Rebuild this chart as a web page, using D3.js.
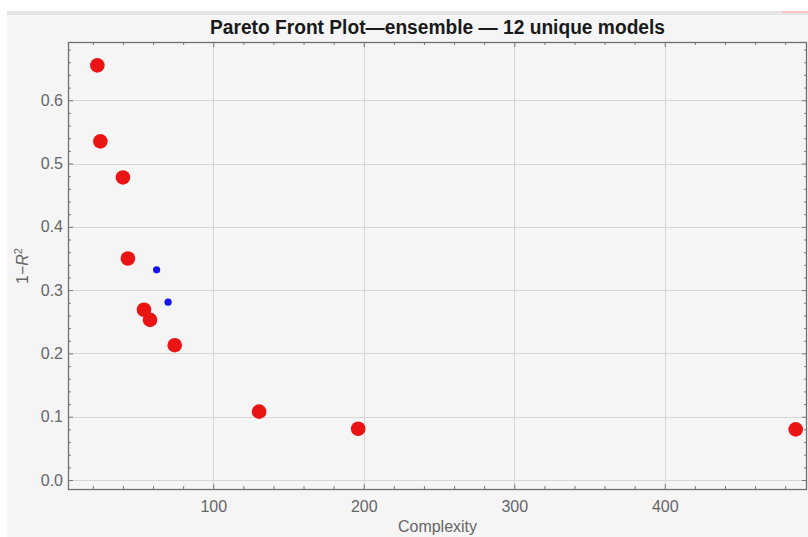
<!DOCTYPE html>
<html>
<head>
<meta charset="utf-8">
<script src="https://cdn.jsdelivr.net/npm/d3@7"></script>
<style>
  html, body { margin: 0; padding: 0; background: #ffffff; }
  svg { display: block; }
  text { font-family: "Liberation Sans", Arial, sans-serif; }
</style>
</head>
<body>
<svg id="chart" width="808" height="537"></svg>
<script>
// Pareto front models: complexity vs. 1 - R^2
const frontComplexity = [23, 25, 40, 43.3, 54, 58, 74.4, 130.5, 196.3, 487];
const frontError      = [0.655, 0.535, 0.478, 0.350, 0.269, 0.253, 0.213, 0.108, 0.081, 0.080];

// Remaining (dominated) models
const otherComplexity = [62.4, 70];
const otherError      = [0.332, 0.281];

const xMajorTicks = [100, 200, 300, 400];
const yMajorTicks = [0.0, 0.1, 0.2, 0.3, 0.4, 0.5, 0.6];

const titleText = "Pareto Front Plot\u2014ensemble \u2014 12 unique models";
const xLabel = "Complexity";

const svg = d3.select("#chart");
const W = 808, H = 537;
const plot = { left: 68, right: 807, top: 42, bottom: 489 };

// Panel background
svg.append("rect").attr("x", 7).attr("y", 12).attr("width", W - 7).attr("height", H - 12)
  .attr("fill", "#f5f5f5");
svg.append("rect").attr("x", 7).attr("y", 11).attr("width", W - 7).attr("height", 4)
  .attr("fill", "#e4e4e4");
svg.append("rect").attr("x", 783).attr("y", 11).attr("width", 25).attr("height", 2)
  .attr("fill", "#f2c4c4");

const x = d3.scaleLinear().domain([3.5, 494.5]).range([plot.left, plot.right]);
const y = d3.scaleLinear().domain([-0.0142, 0.692]).range([plot.bottom, plot.top]);

const xMinor = d3.range(20, 495, 20).filter(v => !xMajorTicks.includes(v));
const yMinor = d3.range(0, 0.69, 0.02).map(v => +v.toFixed(2))
  .filter(v => !yMajorTicks.some(t => Math.abs(t - v) < 1e-9));

// Grid
const grid = svg.append("g").attr("stroke", "#d6d6d6").attr("stroke-width", 1);
grid.selectAll("line.gx").data(xMajorTicks).join("line")
  .attr("x1", d => Math.round(x(d)) + 0.5).attr("x2", d => Math.round(x(d)) + 0.5)
  .attr("y1", plot.top).attr("y2", plot.bottom);
grid.selectAll("line.gy").data(yMajorTicks).join("line")
  .attr("y1", d => Math.round(y(d)) + 0.5).attr("y2", d => Math.round(y(d)) + 0.5)
  .attr("x1", plot.left).attr("x2", plot.right);

// Axes with inward ticks on all four sides
function styleAxis(g) {
  g.select(".domain").remove();
  g.selectAll(".tick line").attr("stroke", "#7a7a7a");
  g.selectAll(".tick text").attr("fill", "#666666").attr("font-size", 16);
}
const fmtY = d3.format(".1f");

svg.append("g").attr("transform", `translate(0,${plot.bottom})`)
  .call(d3.axisBottom(x).tickValues(xMajorTicks).tickSizeInner(-5).tickSizeOuter(0).tickPadding(12))
  .call(styleAxis);
svg.append("g").attr("transform", `translate(0,${plot.bottom})`)
  .call(d3.axisBottom(x).tickValues(xMinor).tickSizeInner(-3).tickSizeOuter(0).tickFormat(""))
  .call(styleAxis);
svg.append("g").attr("transform", `translate(0,${plot.top})`)
  .call(d3.axisTop(x).tickValues(xMajorTicks).tickSizeInner(-5).tickSizeOuter(0).tickFormat(""))
  .call(styleAxis);
svg.append("g").attr("transform", `translate(0,${plot.top})`)
  .call(d3.axisTop(x).tickValues(xMinor).tickSizeInner(-3).tickSizeOuter(0).tickFormat(""))
  .call(styleAxis);

svg.append("g").attr("transform", `translate(${plot.left},0)`)
  .call(d3.axisLeft(y).tickValues(yMajorTicks).tickSizeInner(-5).tickSizeOuter(0).tickPadding(5).tickFormat(fmtY))
  .call(styleAxis);
svg.append("g").attr("transform", `translate(${plot.left},0)`)
  .call(d3.axisLeft(y).tickValues(yMinor).tickSizeInner(-3).tickSizeOuter(0).tickFormat(""))
  .call(styleAxis);
svg.append("g").attr("transform", `translate(${plot.right},0)`)
  .call(d3.axisRight(y).tickValues(yMajorTicks).tickSizeInner(-5).tickSizeOuter(0).tickFormat(""))
  .call(styleAxis);
svg.append("g").attr("transform", `translate(${plot.right},0)`)
  .call(d3.axisRight(y).tickValues(yMinor).tickSizeInner(-3).tickSizeOuter(0).tickFormat(""))
  .call(styleAxis);

// Frame
svg.append("rect")
  .attr("x", plot.left + 0.5).attr("y", plot.top + 0.5)
  .attr("width", plot.right - plot.left - 1).attr("height", plot.bottom - plot.top)
  .attr("fill", "none").attr("stroke", "#707070").attr("stroke-width", 1.3);

// Points
const front = frontComplexity.map((c, i) => ({ c, e: frontError[i] }));
const others = otherComplexity.map((c, i) => ({ c, e: otherError[i] }));

svg.append("g").selectAll("circle").data(front).join("circle")
  .attr("cx", d => x(d.c)).attr("cy", d => y(d.e)).attr("r", 7.3)
  .attr("fill", "#ea1414");
svg.append("g").selectAll("circle").data(others).join("circle")
  .attr("cx", d => x(d.c)).attr("cy", d => y(d.e)).attr("r", 3.6)
  .attr("fill", "#1414ee");

// Title
svg.append("text")
  .attr("x", (plot.left + plot.right) / 2).attr("y", 34)
  .attr("text-anchor", "middle").attr("font-size", 20).attr("font-weight", "bold")
  .attr("fill", "#1a1a1a")
  .attr("textLength", 455).attr("lengthAdjust", "spacingAndGlyphs")
  .text(titleText);

// Axis labels
svg.append("text")
  .attr("x", (plot.left + plot.right) / 2).attr("y", 532)
  .attr("text-anchor", "middle").attr("font-size", 16).attr("fill", "#666666")
  .text(xLabel);

const yl = svg.append("text")
  .attr("transform", "translate(28,266) rotate(-90)")
  .attr("text-anchor", "middle").attr("font-size", 16).attr("fill", "#666666");
yl.append("tspan").text("1\u2212");
yl.append("tspan").attr("font-style", "italic").text("R");
yl.append("tspan").attr("font-size", 11).attr("dy", -6).text("2");
</script>
</body>
</html>
